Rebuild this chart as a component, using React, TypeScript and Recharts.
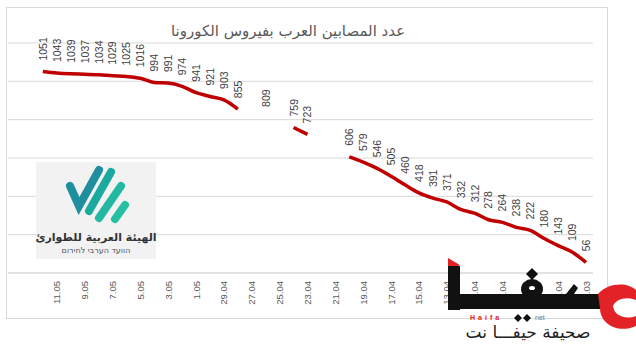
import { LineChart, Line, XAxis, YAxis, CartesianGrid, LabelList } from 'recharts';

// Categories in date order; the axis is drawn reversed (latest date on the left)
const dates = [
  '31.03', '1.04', '3.04', '5.04', '7.04', '8.04', '9.04', '10.04', '11.04', '12.04',
  '13.04', '14.04', '15.04', '16.04', '17.04', '18.04', '19.04', '20.04', '21.04', '22.04',
  '23.04', '24.04', '25.04', '26.04', '27.04', '28.04', '29.04', '30.04', '1.05', '2.05',
  '3.05', '4.05', '5.05', '6.05', '7.05', '8.05', '9.05', '10.05', '11.05', '12.05',
  '', ' ',
];

const cases: (number | null)[] = [
  56, 109, 143, 180, 222, 238, 264, 278, 312, 332,
  371, 391, 418, 460, 505, 546, 579, 606, null, null,
  723, 759, null, 809, null, 855, 903, 921, 941, 974,
  991, 994, 1016, 1025, 1029, 1034, 1037, 1039, 1043, 1051,
  null, null,
];

const yTicks = [0, 200, 400, 600, 800, 1000, 1200];

const TITLE = 'عدد المصابين العرب بفيروس الكورونا';

const data = dates.map((d, i) => ({ date: d, cases: cases[i] }));

const FONT = '"Liberation Sans", Arial, sans-serif';

function DateTick({ x, y, payload }: any) {
  return (
    <text
      x={x}
      y={y}
      transform={`rotate(-90, ${x}, ${y})`}
      textAnchor="end"
      dominantBaseline="central"
      fontSize={9.5}
      fontFamily={FONT}
      fill="#595959"
    >
      {payload.value}
    </text>
  );
}

function ValueLabel({ x, y, value }: any) {
  if (value == null) return null;
  const lx = x;
  const ly = y - 11;
  return (
    <text
      x={lx}
      y={ly}
      transform={`rotate(-90, ${lx}, ${ly})`}
      textAnchor="start"
      dominantBaseline="central"
      fontSize={10.5}
      fontFamily={FONT}
      fill="#404040"
    >
      {value}
    </text>
  );
}

function Watermarks() {
  return (
    <svg width={636} height={352} style={{ position: 'absolute', left: 0, top: 0 }}>
      {/* emergency committee logo */}
      <rect x={36} y={162} width={120} height={97} fill="#f2f2f2" />
      <g stroke="#1ca9a0" strokeWidth={8} strokeLinecap="round" fill="none">
        <path d="M70 186 L79 206 L99 170" stroke="#1f8fa0" />
        <path d="M111 172 L89 211" />
        <path d="M121 186 L99 218" stroke="#22b8a2" />
        <path d="M125 205 L115 219" stroke="#25bfa3" />
      </g>
      <text x={96} y={241} textAnchor="middle" fontSize={11} fontWeight="bold" fill="#333" fontFamily="DejaVu Sans, sans-serif">
        الهيئة العربية للطوارئ
      </text>
      <text x={96} y={253} textAnchor="middle" fontSize={8} fill="#555" fontFamily="DejaVu Sans, sans-serif">
        הוועד הערבי לחירום
      </text>

      {/* Haifa logo */}
      <polygon points="448,258 460,265 448,271" fill="#e32228" />
      <rect x={448} y={266} width={12} height={44} fill="#111" />
      <rect x={448} y={294} width={152} height={15} fill="#111" />
      <ellipse cx={532} cy={289} rx={11} ry={10} fill="#111" />
      <ellipse cx={532} cy={288} rx={3} ry={2} fill="#fff" />
      <polygon points="532,268 538,274 532,280 526,274" fill="#111" />
      <polygon points="566,294 574,284 578,288 574,294" fill="#111" />
      <path
        d="M598 294 C608 282 628 282 636 290 L636 300 C626 296 616 299 613 306 C614 316 626 320 636 316 L636 326 C618 334 600 324 600 308 Z"
        fill="#e32228"
      />
      <text x={470} y={320} fontSize={7} fontWeight="bold" fill="#e32228" fontFamily={FONT} letterSpacing={3}>
        Haifa
      </text>
      <polygon points="518,314 522,318 518,322 514,318" fill="#111" />
      <polygon points="527,314 531,318 527,322 523,318" fill="#111" />
      <text x={535} y={320} fontSize={7} fill="#777" fontFamily={FONT}>
        net
      </text>
      <text x={528} y={338} textAnchor="middle" fontSize={17} fill="#222" fontFamily="DejaVu Sans, sans-serif">
        صحيفة حيفـــا نت
      </text>
    </svg>
  );
}

export default function App() {
  return (
    <div style={{ position: 'absolute', left: 0, top: 0, width: 636, height: 352, background: '#fff' }}>
      {/* chart frame */}
      <div
        style={{
          position: 'absolute',
          left: 6,
          top: 7,
          width: 600,
          height: 310,
          border: '1px solid #d9d9d9',
        }}
      />
      <div
        style={{
          position: 'absolute',
          left: 0,
          top: 22,
          width: 576,
          textAlign: 'center',
          direction: 'rtl',
          fontFamily: 'DejaVu Sans, sans-serif',
          fontSize: 15,
          color: '#595959',
        }}
      >
        {TITLE}
      </div>
      <div style={{ position: 'absolute', left: 0, top: 0 }}>
        <LineChart width={636} height={352} data={data} margin={{ top: 43, right: 43, bottom: 39, left: 8 }}>
          <CartesianGrid vertical={false} stroke="#d9d9d9" />
          <XAxis
            dataKey="date"
            reversed
            interval={1}
            height={40}
            tickLine={false}
            axisLine={{ stroke: '#d9d9d9' }}
            padding={{ left: 7, right: 7 }}
            tick={<DateTick />}
          />
          <YAxis hide domain={[0, 1200]} ticks={yTicks} />
          <Line
            type="monotone"
            dataKey="cases"
            stroke="#c00000"
            strokeWidth={3.5}
            dot={false}
            activeDot={false}
            isAnimationActive={false}
          >
            <LabelList dataKey="cases" content={<ValueLabel />} />
          </Line>
        </LineChart>
      </div>
      <Watermarks />
    </div>
  );
}
